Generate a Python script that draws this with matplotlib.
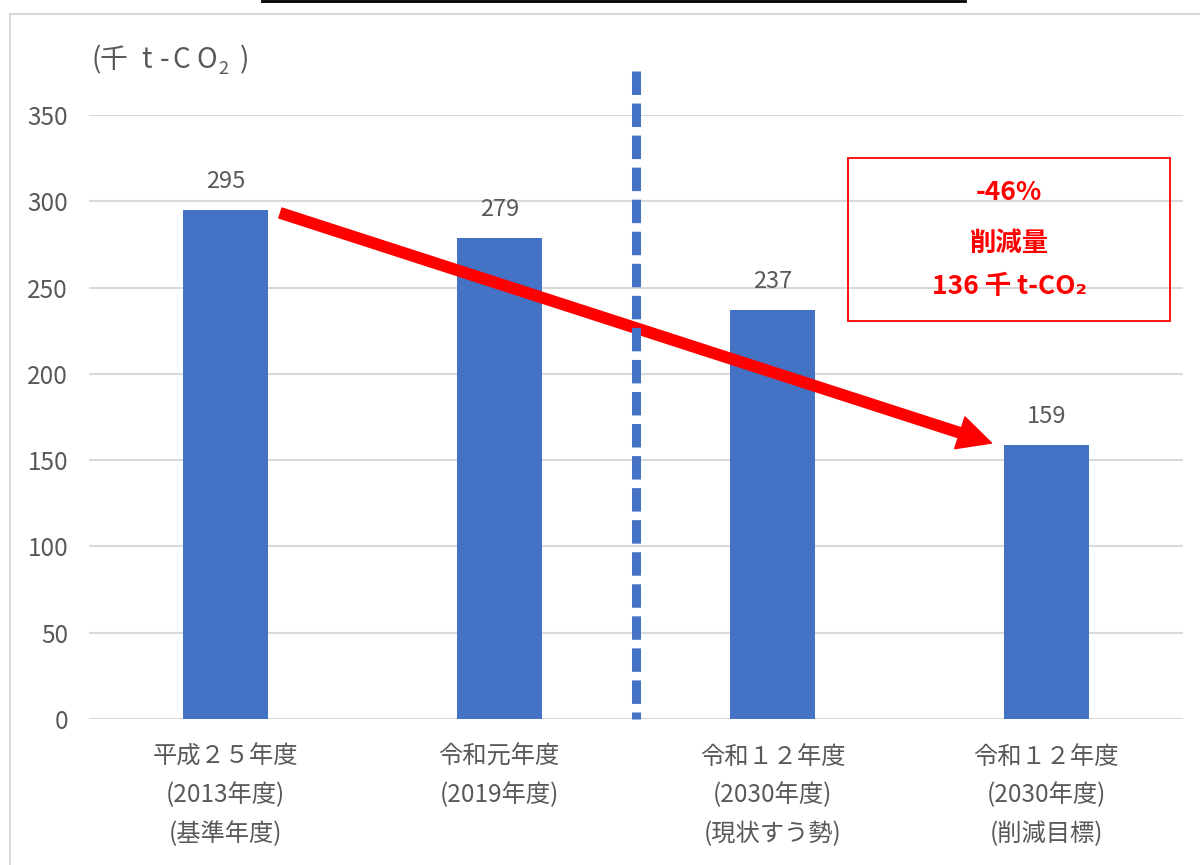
import matplotlib
matplotlib.use("Agg")
import matplotlib.pyplot as plt
from matplotlib.patches import Rectangle, FancyArrowPatch
from matplotlib.lines import Line2D

plt.rcParams['font.family'] = ['Noto Sans CJK JP', 'DejaVu Sans']

# data
categories = [
    "平成２５年度\n(2013年度)\n(基準年度)",
    "令和元年度\n(2019年度)",
    "令和１２年度\n(2030年度)\n(現状すう勢)",
    "令和１２年度\n(2030年度)\n(削減目標)",
]
values = [295, 279, 237, 159]
y_ticks = [0, 50, 100, 150, 200, 250, 300, 350]
unit_parts = ["(", "千", "t", "-", "C", "O", ")"]
box_lines = ["-46%", "削減量", "136 千 t-CO₂"]

# arrow from base year to target (data coords)
arrow_start = (0.20, 293.2)
arrow_end = (2.80, 159.9)

gray = "#595959"
blue = "#4472C4"
W, H = 1200, 865

fig = plt.figure(figsize=(12, 8.65), dpi=100)
ax = fig.add_axes([89 / W, 1 - 719 / H, 1094 / W, 604 / H])

x = range(len(values))
ax.bar(x, values, width=0.31, color=blue, zorder=2)

for i, v in enumerate(values):
    ax.annotate(str(v), (i, v), xytext=(0, 12), textcoords="offset points",
                ha="center", va="bottom", fontsize=17, color=gray)

ax.set_xlim(-0.5, 3.5)
ax.set_ylim(0, 350)
ax.set_yticks(y_ticks)
ax.set_xticks(list(x))
ax.set_xticklabels(categories, linespacing=1.62)
ax.yaxis.grid(True, color="#d9d9d9", linewidth=1.5)
ax.set_axisbelow(True)
for s in ax.spines.values():
    s.set_visible(False)
ax.tick_params(axis="y", length=0, pad=15, labelsize=17.5, labelcolor=gray)
ax.tick_params(axis="x", length=0, pad=18, labelsize=17.5, labelcolor=gray)

# red arrow
arr = FancyArrowPatch(arrow_start, arrow_end,
                      arrowstyle="simple,head_length=24,head_width=24,tail_width=7.5",
                      mutation_scale=1, color="red", shrinkA=0, shrinkB=0, zorder=3)
ax.add_patch(arr)

# dashed separator (drawn on top of the arrow)
ax.plot([1.5, 1.5], [375.5, 0], color=blue, linewidth=6.5, dashes=(2.6, 0.95),
        clip_on=False, zorder=4)

# unit label, spread out like the original
unit_x = [96, 113, 146, 165, 181, 207, 245]
for part, px in zip(unit_parts, unit_x):
    fig.text(px / W, 1 - 60 / H, part, fontsize=20, color=gray,
             ha="center", va="center")
fig.text(223 / W, 1 - 69 / H, "2", fontsize=13, color=gray,
         ha="center", va="center")

# red box
fig.add_artist(Rectangle((848 / W, 1 - 321 / H), 322 / W, 163 / H,
                         transform=fig.transFigure, fill=False,
                         edgecolor="red", linewidth=1.3))
for txt, yy in zip(box_lines, [192, 243, 287]):
    fig.text(1009 / W, 1 - yy / H, txt, fontsize=19, color="red",
             fontweight="bold", ha="center", va="center")

# outer border and top line
fig.add_artist(Rectangle((9.5 / W, -0.05), 1.2, (1 - 13.5 / H) + 0.05,
                         transform=fig.transFigure, fill=False,
                         edgecolor="#d9d9d9", linewidth=1.5))
fig.add_artist(Line2D([262 / W, 965 / W], [1 - 1 / H, 1 - 1 / H],
                      transform=fig.transFigure, color="black", linewidth=2))

fig.savefig("out.png", dpi=100)
